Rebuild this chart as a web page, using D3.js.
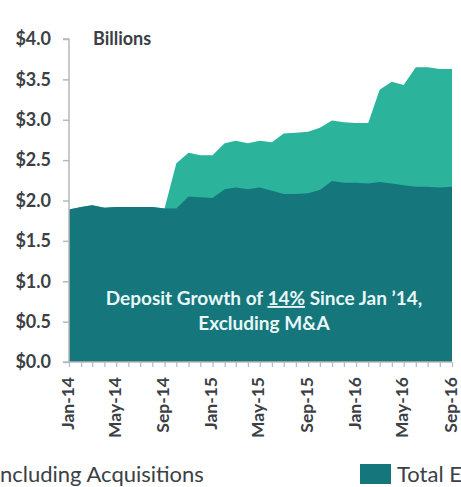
<!DOCTYPE html>
<html>
<head>
<meta charset="utf-8">
<script src="https://cdn.jsdelivr.net/npm/d3@7"></script>
<style>
  html, body { margin: 0; padding: 0; background: #ffffff; }
  svg { display: block; }
</style>
</head>
<body>
<svg id="chart" width="461" height="487"></svg>
<script>
// Monthly deposit balances, $ billions
const months = [
  "2014-01","2014-02","2014-03","2014-04","2014-05","2014-06","2014-07","2014-08","2014-09",
  "2014-10","2014-11","2014-12","2015-01","2015-02","2015-03","2015-04","2015-05","2015-06",
  "2015-07","2015-08","2015-09","2015-10","2015-11","2015-12","2016-01","2016-02","2016-03",
  "2016-04","2016-05","2016-06","2016-07","2016-08","2016-09"
];
// Total including acquisitions
const totalIncluding = [
  1.89, 1.92, 1.94, 1.91, 1.92, 1.92, 1.92, 1.92, 1.90,
  2.46, 2.59, 2.56, 2.56, 2.71, 2.74, 2.71, 2.74, 2.72,
  2.83, 2.84, 2.85, 2.90, 2.99, 2.97, 2.96, 2.96, 3.37,
  3.47, 3.43, 3.65, 3.65, 3.63, 3.63
];
// Total excluding acquisitions
const totalExcluding = [
  1.89, 1.92, 1.94, 1.91, 1.92, 1.92, 1.92, 1.92, 1.90,
  1.90, 2.05, 2.04, 2.03, 2.14, 2.16, 2.14, 2.16, 2.12,
  2.08, 2.08, 2.09, 2.13, 2.24, 2.22, 2.22, 2.21, 2.23,
  2.21, 2.19, 2.17, 2.17, 2.16, 2.17
];
const yTicks = [0, 0.5, 1.0, 1.5, 2.0, 2.5, 3.0, 3.5, 4.0];
const xLabelMonths = ["2014-01","2014-05","2014-09","2015-01","2015-05","2015-09","2016-01","2016-05","2016-09"];
// Legend entries as they sit at the edges of the frame
const legendLabels = ["ncluding Acquisitions", "Total E"];

const colorIncl = "#2bb39b";
const colorExcl = "#15767c";
const textColor = "#3b4045";
const axisColor = "#b5b9bc";
const font = "Lato, 'Open Sans', sans-serif";

const parse = d3.timeParse("%Y-%m");
const dates = months.map(parse);
const data = dates.map((d, i) => ({ date: d, incl: totalIncluding[i], excl: totalExcluding[i] }));

const svg = d3.select("#chart");
const plotLeft = 69, plotRight = 452, plotTop = 39, plotBottom = 362;

const x = d3.scaleTime().domain(d3.extent(dates)).range([plotLeft, plotRight]);
const y = d3.scaleLinear().domain([0, 4]).range([plotBottom, plotTop]);

// Total area first, the excluding series drawn over it
const areaIncl = d3.area().x(d => x(d.date)).y0(y(0)).y1(d => y(d.incl));
const areaExcl = d3.area().x(d => x(d.date)).y0(y(0)).y1(d => y(d.excl));

svg.append("path").datum(data).attr("d", areaIncl).attr("fill", colorIncl);
svg.append("path").datum(data).attr("d", areaExcl).attr("fill", colorExcl);

// Y axis
const yAxis = d3.axisLeft(y).tickValues(yTicks).tickSize(6).tickPadding(12)
  .tickFormat(d => "$" + d3.format(".1f")(d));
const gy = svg.append("g").attr("transform", `translate(${plotLeft},0)`).call(yAxis);
gy.select(".domain").attr("stroke", axisColor).attr("stroke-width", 1.5).attr("d", `M-6,${plotTop}H0V${plotBottom}H-6`);
gy.selectAll(".tick line").attr("stroke", axisColor).attr("stroke-width", 1.5);
gy.selectAll(".tick text").attr("fill", textColor).style("font-family", font)
  .style("font-size", "18px").style("font-weight", "bold");

// X axis: a minor tick every month, labels every four months
const xAxis = d3.axisBottom(x).tickValues(dates).tickSize(5).tickFormat("");
const gx = svg.append("g").attr("transform", `translate(0,${plotBottom})`).call(xAxis);
gx.select(".domain").attr("stroke", axisColor).attr("stroke-width", 1.5).attr("d", `M${plotLeft},0H${plotRight}`);
gx.selectAll(".tick line").attr("stroke", axisColor).attr("stroke-width", 1.2);

const labelFmt = d3.timeFormat("%b-%y");
svg.append("g").selectAll("text")
  .data(xLabelMonths.map(parse))
  .join("text")
  .attr("transform", d => `translate(${x(d) - 1},${plotBottom + 15}) rotate(-90)`)
  .attr("text-anchor", "end")
  .attr("dy", "0.32em")
  .attr("fill", textColor)
  .style("font-family", font)
  .style("font-size", "17.5px")
  .style("font-weight", "bold")
  .text(labelFmt);

// Unit label
svg.append("text").attr("x", 93).attr("y", 45)
  .attr("fill", textColor).style("font-family", font)
  .style("font-size", "18px").style("font-weight", "bold")
  .text("Billions");

// Annotation inside the dark area
const note = svg.append("text").attr("text-anchor", "middle")
  .attr("fill", "#e8f7f6").style("font-family", font)
  .style("font-size", "19px").style("font-weight", "bold");
const l1 = note.append("tspan").attr("x", 264).attr("y", 305);
l1.append("tspan").text("Deposit Growth of ");
l1.append("tspan").attr("text-decoration", "underline").text("14%");
l1.append("tspan").text(" Since Jan \u201914,");
note.append("tspan").attr("x", 264).attr("y", 330).text("Excluding M&A");

// Legend
const legend = svg.append("g").style("font-family", font).style("font-size", "22px");
legend.append("text").attr("x", 0).attr("y", 482).attr("fill", textColor)
  .text(legendLabels[0]);
legend.append("rect").attr("x", 360).attr("y", 464).attr("width", 31).attr("height", 20).attr("fill", colorExcl);
legend.append("text").attr("x", 397).attr("y", 482).attr("fill", textColor)
  .text(legendLabels[1]);
</script>
</body>
</html>
